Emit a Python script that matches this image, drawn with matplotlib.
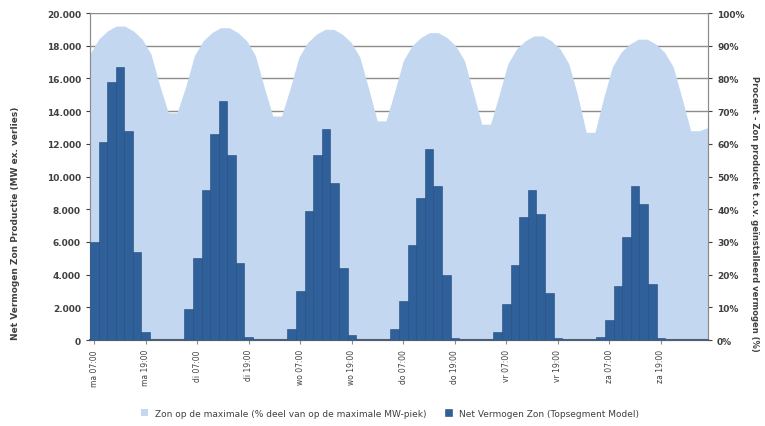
# -*- coding: UTF-8 -*-
"""
Zon productie over 6 dagen (2-uurs waarden)
- staven: net vermogen (MW), linker as
- vlak: percentage, rechter as
"""
import matplotlib.pyplot as plt
import numpy as np

# tijdas: 72 waarden (6 dagen x 12 blokken van 2 uur)
dagen = ['ma', 'di', 'wo', 'do', 'vr', 'za']
uren = ['07:00', '19:00']
tick_labels = [d + ' ' + u for d in dagen for u in uren]

# net vermogen (MW)
vermogen = [6000, 12100, 15800, 16700, 12800, 5400, 500, 0, 0, 0, 0, 1900,
            5000, 9200, 12600, 14600, 11300, 4700, 200, 0, 0, 0, 0, 700,
            3000, 7900, 11300, 12900, 9600, 4400, 300, 0, 0, 0, 0, 700,
            2400, 5800, 8700, 11700, 9400, 4000, 100, 0, 0, 0, 0, 500,
            2200, 4600, 7500, 9200, 7700, 2900, 100, 0, 0, 0, 0, 200,
            1200, 3300, 6300, 9400, 8300, 3400, 100, 0, 0, 0, 0, 0]

# percentage (rechter as)
percentage = [87.5, 92, 94.5, 96, 96, 94.5, 92, 87.5, 78, 69.5, 69.5, 77.5,
              87, 91.5, 94, 95.5, 95.5, 94, 91.5, 87, 77.5, 68.5, 68.5, 77,
              86.5, 91, 93.5, 95, 95, 93.5, 91, 86.5, 77, 67, 67, 76,
              85.5, 90, 92.5, 94, 94, 92.5, 90, 85.5, 76, 66, 66, 75,
              84.5, 89, 91.5, 93, 93, 91.5, 89, 84.5, 75, 63.5, 63.5, 74,
              83.5, 88, 90.5, 92, 92, 90.5, 88, 83.5, 74, 64, 64, 65]

linker_ticks = np.arange(0, 20001, 2000)
rechter_ticks = np.arange(0, 101, 10)

tekst = '#404040'
plt.rcParams['font.family'] = ['DejaVu Sans']

fig = plt.figure(figsize=(7.65, 4.27), dpi=100)
ax = fig.add_axes([0.1176, 0.2014, 0.808, 0.7658])
ax2 = ax.twinx()
# staven boven het vlak tekenen
ax.set_zorder(2)
ax.patch.set_visible(False)

n = len(vermogen)
x = np.arange(n)

# vlak (rechter as), loopt van rand tot rand
x_vlak = np.linspace(-0.5, n - 0.5, n)
ax2.fill_between(x_vlak, percentage, 0, color='#C3D8F0', lw=0, zorder=1,
                 label='Zon op de maximale (% deel van op de maximale MW-piek)')
ax2.set_ylim(0, 100)
ax2.set_yticks(rechter_ticks)
ax2.set_yticklabels(['{}%'.format(v) for v in rechter_ticks])
ax2.set_axisbelow(True)
ax2.yaxis.grid(True, color='#8C8C8C', lw=1.0)

# staven (linker as)
ax.bar(x, vermogen, width=1.0, color='#30609A', edgecolor='#244B7C', lw=0.4,
       zorder=3, label='Net Vermogen Zon (Topsegment Model)')
ax.set_ylim(0, 20000)
ax.set_xlim(-0.5, n - 0.5)
ax.set_yticks(linker_ticks)
ax.set_yticklabels(['{:,}'.format(v).replace(',', '.') for v in linker_ticks])

ax.set_xticks(x[::6])
ax.set_xticklabels(tick_labels, rotation=90, fontsize=5.5, color=tekst)

for a in (ax, ax2):
    a.tick_params(axis='y', labelsize=6.5, colors=tekst, length=3, width=0.8)
    for lbl in a.get_yticklabels():
        lbl.set_fontweight('bold')
    for s in a.spines.values():
        s.set_color('#8C8C8C')
    a.spines['top'].set_visible(False)
ax.spines['bottom'].set_color('#4F5E72')
ax.spines['bottom'].set_linewidth(1.5)
ax.tick_params(axis='x', length=3, color='#8C8C8C')

ax.set_ylabel('Net Vermogen Zon Productie (MW ex. verlies)', fontsize=6.5,
              color=tekst, fontweight='bold', va='center')
ax.yaxis.set_label_coords(-0.12, 0.36)
ax2.set_ylabel('Procent - Zon productie t.o.v. geïnstalleerd vermogen (%)',
               fontsize=6, color=tekst, fontweight='bold', rotation=270,
               va='center')
ax2.yaxis.set_label_coords(1.075, 0.39)

# legenda onderaan
h1, l1 = ax2.get_legend_handles_labels()
h2, l2 = ax.get_legend_handles_labels()
fig.legend(h1 + h2, l1 + l2, loc='lower center', bbox_to_anchor=(0.51, 0.0),
           ncol=2, frameon=False, fontsize=6.5, handlelength=0.8,
           handleheight=0.8, columnspacing=2.0, labelcolor=tekst)

fig.savefig('out.png', dpi=100)
